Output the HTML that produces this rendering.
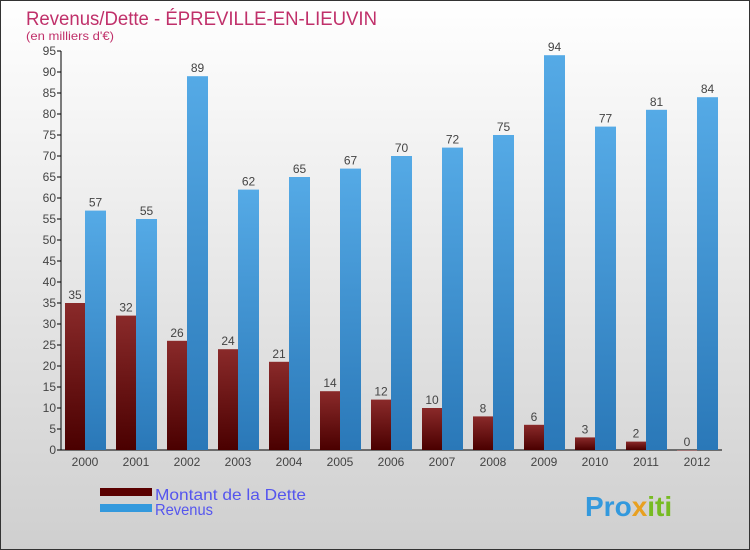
<!DOCTYPE html>
<html><head><meta charset="utf-8"><style>
body{margin:0}
#c{width:750px;height:550px;position:relative;overflow:hidden}
text{font-family:"Liberation Sans",sans-serif}
</style></head><body>
<div id="c">
<svg id="s" width="750" height="550" xmlns="http://www.w3.org/2000/svg">
<defs>
<linearGradient id="bg" x1="0" y1="0" x2="0" y2="1"><stop offset="0" stop-color="#ffffff"/><stop offset="1" stop-color="#cfcfcf"/></linearGradient>
<linearGradient id="gd" x1="0" y1="0" x2="0" y2="1"><stop offset="0" stop-color="#8a2a2a"/><stop offset="1" stop-color="#4a0000"/></linearGradient>
<linearGradient id="gr" x1="0" y1="0" x2="0" y2="1"><stop offset="0" stop-color="#55aae6"/><stop offset="1" stop-color="#2a78b8"/></linearGradient>
</defs>
<rect x="0.5" y="0.5" width="749" height="549" fill="url(#bg)" stroke="#333"/>
<text x="26" y="25" font-size="19" textLength="351" lengthAdjust="spacingAndGlyphs" fill="#c0306a">Revenus/Dette - ÉPREVILLE-EN-LIEUVIN</text>
<text x="26" y="40" font-size="12" textLength="88" lengthAdjust="spacingAndGlyphs" fill="#c0306a">(en milliers d'€)</text>
<g id="axes"></g><g id="bars"></g>
<rect x="100" y="488" width="52" height="8" fill="#5a0000"/>
<rect x="100" y="504" width="52" height="8" fill="#3399dd"/>
<text x="155" y="500" font-size="16" textLength="151" lengthAdjust="spacingAndGlyphs" fill="#5555ee">Montant de la Dette</text>
<text x="155" y="515" font-size="16" textLength="58" lengthAdjust="spacingAndGlyphs" fill="#5555ee">Revenus</text>
<text x="585" y="516" font-size="28" font-weight="bold" fill="#3399dd">Pro<tspan fill="#e8a020">x</tspan><tspan fill="#77bb22">iti</tspan></text>
</svg></div>
<script>
const years=["2000","2001","2002","2003","2004","2005","2006","2007","2008","2009","2010","2011","2012"];
const dette=[35,32,26,24,21,14,12,10,8,6,3,2,0];
const revenus=[57,55,89,62,65,67,70,72,75,94,77,81,84];
const yTicks=[0,5,10,15,20,25,30,35,40,45,50,55,60,65,70,75,80,85,90,95];
const NS="http://www.w3.org/2000/svg";
const y0=450,y95=51,x0=61;
const ys=v=>y0-(v/95)*(y0-y95);
const xs=i=>85+i*51;
function mk(t,a,p){const e=document.createElementNS(NS,t);for(const k in a)e.setAttribute(k,a[k]);p.appendChild(e);return e;}
const ax=document.getElementById('axes'),bs=document.getElementById('bars');
let l=mk('line',{x1:x0,y1:y95,x2:x0,y2:y0,stroke:'#000'},ax);


l=mk('line',{x1:x0,y1:y0,x2:722,y2:y0,stroke:'#000'},ax);


yTicks.forEach(v=>{const y=ys(v);
mk('line',{x1:x0-4,y1:y,x2:x0,y2:y,stroke:'#000'},ax);
const t=mk('text',{x:x0-5,y:y+4,'font-size':12,fill:'#444','text-anchor':'end'},ax);t.textContent=v;

});
years.forEach((yr,i)=>{const c=xs(i);
const t=mk('text',{x:c,y:466,'font-size':12,fill:'#444','text-anchor':'middle'},ax);t.textContent=yr;


const h1=y0-ys(dette[i]);
let r=mk('rect',{x:c-20,y:ys(dette[i]),width:20,height:Math.max(h1,0.5),fill:'url(#gd)'},bs);


let v=mk('text',{x:c-10,y:ys(dette[i])-4,'font-size':12,fill:'#444','text-anchor':'middle'},bs);v.textContent=dette[i];


r=mk('rect',{x:c,y:ys(revenus[i]),width:21,height:y0-ys(revenus[i]),fill:'url(#gr)'},bs);


v=mk('text',{x:c+10.5,y:ys(revenus[i])-4,'font-size':12,fill:'#444','text-anchor':'middle'},bs);v.textContent=revenus[i];

});
</script>
</body></html>
